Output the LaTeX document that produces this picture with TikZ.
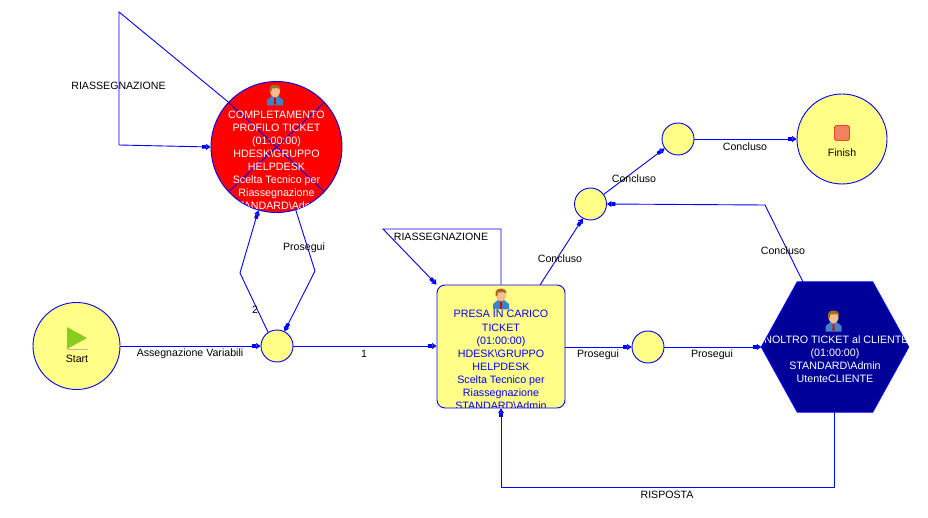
\documentclass[tikz,border=0pt]{standalone}
\usepackage{fontspec}
\setmainfont{Liberation Sans}
\usetikzlibrary{arrows.meta,shapes.geometric}
\definecolor{wfblue}{RGB}{0,0,255}
\definecolor{wfyellow}{RGB}{255,255,136}
\definecolor{wfnavy}{RGB}{0,0,153}
\definecolor{wfskin}{RGB}{244,190,140}
\definecolor{wfhair}{RGB}{165,105,35}
\definecolor{wfsuit}{RGB}{62,130,200}
\definecolor{wfgreen}{RGB}{136,204,34}
\definecolor{wfstop}{RGB}{240,130,95}
\tikzset{
  x=1pt,y=-1pt,
  wfline/.style={draw=wfblue,line width=0.9pt},
  flow/.style={wfline,-{Rectangle[length=4pt,width=3.6pt]Stealth[length=4.5pt,width=6pt,inset=0.6pt]}},
  plainflow/.style={wfline},
  state/.style={circle,wfline,fill=wfyellow,inner sep=0pt},
  redstate/.style={circle,wfline,fill=red,inner sep=0pt},
  edgelabel/.style={font=\fontsize{10.6}{12}\selectfont,text=black,inner sep=0pt,yshift=-0.7pt},
  tasktext/.style={font=\fontsize{10.7}{13.1}\selectfont,align=center,inner sep=0pt},
  person/.pic={
    \fill[wfsuit] (-8,11) -- (-8,5.5) -- (-3,1.5) -- (3,1.5) -- (8,5.5) -- (8,11) -- cycle;
    \fill[white] (-2,1.5) -- (2,1.5) -- (0,5) -- cycle;
    \fill[red!85!black] (-0.8,2) -- (0.8,2) -- (1.1,10) -- (-1.1,10) -- cycle;
    \fill[wfskin] (0,-3.4) ellipse [x radius=5,y radius=6.2];
    \fill[wfhair] (-5.4,-2.5) -- (-5.4,-7) .. controls (-4,-11) and (4,-11) .. (5.4,-7)
      -- (5.4,-5) -- (2.5,-6.5) -- (-3,-6) -- (-3.8,-2.5) -- cycle;
  }
}
\begin{document}
\begin{tikzpicture}
\useasboundingbox[fill=white] (0,0) rectangle (928,518);

% Gateways and terminal states
\node[state,minimum size=87pt] (start) at (76.5,346) {};
\node[state,minimum size=90pt] (finish) at (842,139) {};
\node[state,minimum size=32pt] (gwa) at (277,346) {};
\node[state,minimum size=32pt] (gwb) at (648,347) {};
\node[state,minimum size=32pt] (gwc) at (590.5,204) {};
\node[state,minimum size=32pt] (gwd) at (678,139) {};

% Ticket profile task
\node[redstate,minimum size=131pt] (profile) at (276.5,147) {};
\draw[plainflow] (profile.137) -- (profile.-43);
\draw[plainflow] (profile.43) -- (profile.223);
\pic at (275,94.5) {person};
\begin{scope}
  \clip (276.5,147) circle [radius=65];
  \node[tasktext,text=white,anchor=north] (profiletext) at (276.5,110.5)
    {COMPLETAMENTO\\PROFILO TICKET\\(01:00:00)\\HDESK\textbackslash GRUPPO\\HELPDESK\\Scelta Tecnico per\\Riassegnazione\\STANDARD\textbackslash Admin};
\end{scope}

% Take-charge task
\node[rectangle,rounded corners=8pt,wfline,fill=wfyellow,minimum width=128pt,minimum height=123pt,inner sep=0pt] (take) at (501,346.5) {};
\pic at (501,298.5) {person};
\begin{scope}
  \clip[rounded corners=8pt] (437.5,285.5) rectangle (564.5,407.5);
  \node[tasktext,text=wfblue,anchor=north] (taketext) at (501,310.3)
    {PRESA IN CARICO\\TICKET\\(01:00:00)\\HDESK\textbackslash GRUPPO\\HELPDESK\\Scelta Tecnico per\\Riassegnazione\\STANDARD\textbackslash Admin};
\end{scope}

% Customer forwarding task
\node[rectangle,minimum width=147pt,minimum height=130pt,inner sep=0pt] (forward) at (835,347) {};
\path[wfline,fill=wfnavy] (forward.west) -- ([xshift=36pt]forward.north west) -- ([xshift=-36pt]forward.north east)
  -- (forward.east) -- ([xshift=-36pt]forward.south east) -- ([xshift=36pt]forward.south west) -- cycle;
\pic at (833.5,320.5) {person};
\begin{scope}
  \clip (forward.west) -- ([xshift=36pt]forward.north west) -- ([xshift=-36pt]forward.north east)
  -- (forward.east) -- ([xshift=-36pt]forward.south east) -- ([xshift=36pt]forward.south west) -- cycle;
  \node[tasktext,text=white,anchor=north] (forwardtext) at (835,335.3)
    {INOLTRO TICKET al CLIENTE\\(01:00:00)\\STANDARD\textbackslash Admin\\UtenteCLIENTE};
\end{scope}

% Start and finish symbols
\fill[wfgreen] (67,327) -- (87,338) -- (67,349) -- cycle;
\draw[red!30!gray!50,line width=0.8pt] (67,349.5) -- (88,349.5);
\node[edgelabel] (startlabel) at (77,358) {Start};
\draw[red,dashed,dash pattern=on 1.2pt off 0.8pt,fill=wfstop,rounded corners=2pt,line width=0.9pt] (834.5,125.5) rectangle (849.5,140.5);
\node[edgelabel] (finishlabel) at (842,152) {Finish};

% Bend points
\coordinate (loopa) at (119,12);
\coordinate (loopb) at (119,145);
\coordinate (upbend) at (240,273);
\coordinate (downbend) at (315,271);
\coordinate (loopc) at (501,229);
\coordinate (loopd) at (383,229);
\coordinate (backa) at (834,487);
\coordinate (backb) at (501,487);
\coordinate (donebend) at (765,205);

% Connectors
\draw[flow] (start.east) -- (gwa.west);
\draw[flow] (gwa.east) -- (gwa.east -| take.west);
\draw[flow] (gwa.123) -- (upbend) -- (profile.254);
\draw[flow] (profile.287) -- (downbend) -- (gwa.63);
\draw[flow] (profile.137) -- (loopa) -- (loopb) -- (profile.west);
\draw[flow] (take.north) -- (loopc) -- (loopd) -- (take.north west);
\draw[flow] (take.east |- gwb) -- (gwb.west);
\draw[flow] (gwb.east) -- (forward.west);
\draw[flow] (834,412) -- (backa) -- (backb) -- (take.south);
\draw[flow] (803,282) -- (donebend) -- (gwc.east);
\draw[flow] (540,285) -- (gwc.242);
\draw[flow] (gwc.36) -- (gwd.215);
\draw[flow] (gwd.east) -- (finish.west);

% Connector labels
\node[edgelabel] (la) at (118.5,85) {RIASSEGNAZIONE};
\node[edgelabel] (lb) at (441,236) {RIASSEGNAZIONE};
\node[edgelabel] (lc) at (190,353) {Assegnazione Variabili};
\node[edgelabel] (ld) at (364,353) {1};
\node[edgelabel] (le) at (255,309) {2};
\node[edgelabel] (lf) at (304,247) {Prosegui};
\node[edgelabel] (lg) at (598,354) {Prosegui};
\node[edgelabel] (lh) at (712,354) {Prosegui};
\node[edgelabel] (li) at (667,494) {RISPOSTA};
\node[edgelabel] (lj) at (783,250) {Concluso};
\node[edgelabel] (lk) at (560,258) {Concluso};
\node[edgelabel] (ll) at (634,178) {Concluso};
\node[edgelabel] (lm) at (745,146) {Concluso};
\end{tikzpicture}
\end{document}
